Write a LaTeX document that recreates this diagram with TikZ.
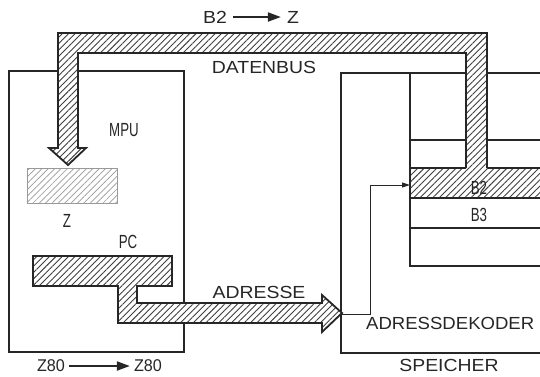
\documentclass[tikz,border=0pt]{standalone}
\usepackage{fontspec}
\setmainfont{Liberation Sans}
\usepackage{graphicx}
\usetikzlibrary{patterns.meta,arrows.meta}
\newcommand\widetxt[1]{\scalebox{1.11}[1]{#1}}
\newcommand\condtxt[1]{\scalebox{0.7}[1]{#1}}
\tikzset{
 box/.style={line width=1.8pt, draw=black!85},
 thinbox/.style={line width=1.4pt, draw=black!85},
 hatch/.style={preaction={fill=white}, pattern={Lines[angle=45,distance=4.5pt,line width=0.9pt]}, pattern color=black!75},
 lighthatch/.style={preaction={fill=white}, pattern={Lines[angle=45,distance=4.5pt,line width=0.7pt]}, pattern color=black!40},
 lbl/.style={font=\fontsize{17.5}{20}\selectfont, inner sep=0pt, text=black!85},
 hand/.style={font=\fontsize{19}{20}\selectfont, inner sep=0pt, text=black!85},
 handsmall/.style={font=\fontsize{17}{18}\selectfont, inner sep=0pt, text=black!85},
 textarrow/.style={line width=2pt, draw=black!85, -{Triangle[length=13pt,width=9pt]}}
}
\begin{document}
\begin{tikzpicture}[x=1pt,y=-1pt]
\useasboundingbox (0,0) rectangle (540,376);
\clip (0,0) rectangle (540,376);
% MPU box
\draw[box] (9,71) rectangle (184,352);
% Speicher box
\draw[box] (545,73) -| (341,353) -- (545,353);
% memory block
\draw[thinbox] (545,266) -| (410,73);
\draw[thinbox] (410,140) -- (545,140);
\draw[thinbox] (410,228) -- (545,228);
\draw[thinbox, hatch] (410,168) rectangle (545,198);
% data bus
\path[hatch] (58,33) -- (487,33) -- (487,170) -- (466,170) -- (466,53) -- (78,53) -- (78,148) -- (86,148) -- (68,165) -- (49,148) -- (58,148) -- cycle;
\draw[box, line join=miter] (466,168) -- (466,53) -- (78,53) -- (78,148) -- (86,148) -- (68,165) -- (49,148) -- (58,148) -- (58,33) -- (487,33) -- (487,168);
% Z register
\draw[lighthatch, draw=black!40, line width=0.8pt] (27,168) rectangle (117,203);
% PC and address bus
\draw[box, hatch, line join=miter] (33,256) -- (172,256) -- (172,286) -- (137,286) -- (137,303) -- (322,303) -- (322,295) -- (342,313) -- (322,332) -- (322,323) -- (118,323) -- (118,286) -- (33,286) -- cycle;
% address decoder select line
\coordinate (dec) at (341,314);
\coordinate (decup) at (370,314);
\coordinate (b2in) at (410,185);
\draw[line width=1pt, draw=black!85, -{Triangle[length=8pt,width=5pt]}] (dec) -- (decup) |- (b2in);
% labels
\node[lbl] (b2t) at (215,17) {\widetxt{B2}};
\node[lbl] (zt) at (293,17) {\widetxt{Z}};
\draw[textarrow] ([xshift=6pt]b2t.east) -- ([xshift=-6pt]zt.west);
\node[lbl] (datenbus) at (264,67) {\widetxt{DATENBUS}};
\node[hand] (mpu) at (124,130) {\condtxt{MPU}};
\node[hand] (zl) at (67,221) {\condtxt{Z}};
\node[hand] (pc) at (128,242) {\condtxt{PC}};
\node[lbl] (adresse) at (259,292) {\widetxt{ADRESSE}};
\node[lbl, anchor=west] (adk) at (366,323) {\scalebox{1.06}[1]{ADRESSDEKODER}};
\node[lbl] (speicher) at (449,365) {\widetxt{SPEICHER}};
\node[hand] (b2) at (479,188) {\condtxt{B2}};
\node[hand] (b3) at (479,215) {\condtxt{B3}};
\node[handsmall] (z80a) at (51,366) {\scalebox{0.95}[1]{Z80}};
\node[handsmall] (z80b) at (148,366) {\scalebox{0.95}[1]{Z80}};
\draw[textarrow] ([xshift=4pt]z80a.east) -- ([xshift=-4pt]z80b.west);
\end{tikzpicture}
\end{document}
